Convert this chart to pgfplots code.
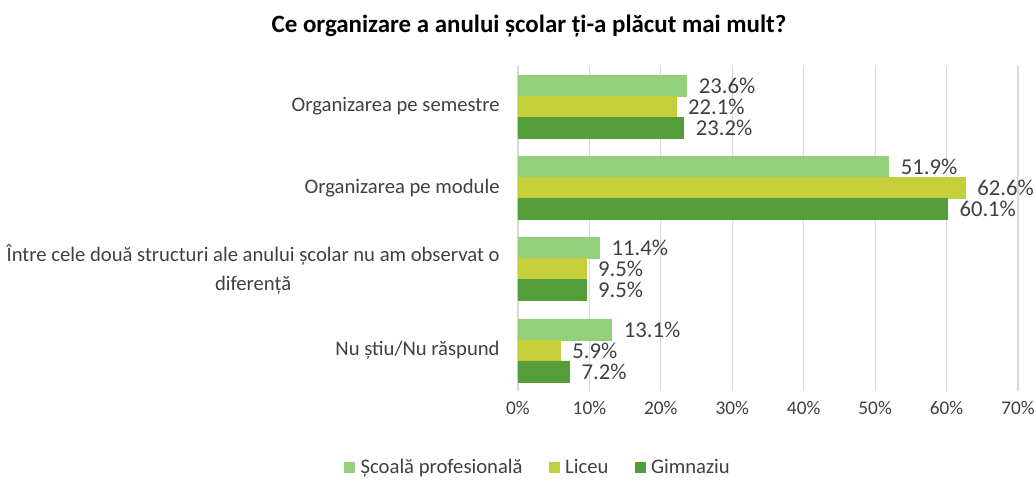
\documentclass[border=0pt]{standalone}
\usepackage{pgfplots}
\pgfplotsset{compat=1.18}
\usepackage{fontspec}
\setmainfont{Carlito}
\definecolor{cA}{RGB}{146,208,124}
\definecolor{cB}{RGB}{196,207,58}
\definecolor{cC}{RGB}{84,158,58}
\definecolor{txt}{RGB}{64,64,64}
\begin{document}
\begin{tikzpicture}
\useasboundingbox (-388.5pt,-66.75pt) rectangle (388.5pt,293.25pt);
\begin{axis}[
  at={(0,0)}, anchor=south west,
  scale only axis, width=375pt, height=243.75pt,
  xbar, bar width=15.75pt,
  xmin=0, xmax=70, ymin=-0.5, ymax=3.5, y dir=reverse,
  xtick={0,10,20,30,40,50,60,70},
  xticklabels={0\%,10\%,20\%,30\%,40\%,50\%,60\%,70\%},
  ytick={0,1,2,3},
  yticklabels={Organizarea pe semestre,Organizarea pe module,{Între cele două structuri ale anului școlar nu am observat o\\diferență},Nu știu/Nu răspund},
  yticklabel style={align=center, font=\fontsize{15.5}{21.5}\selectfont, text=txt, xshift=-6pt},
  xticklabel style={font=\fontsize{14.5}{17}\selectfont, text=txt, yshift=-4pt},
  /pgf/number format/assume math mode=true,
  xmajorgrids, grid style={draw=black!15, line width=0.8pt},
  axis line style={draw=none}, major tick style={draw=none},
  nodes near coords={\pgfmathprintnumber[fixed,fixed zerofill,precision=1]{\pgfplotspointmeta}\%},
  nodes near coords style={anchor=west, inner xsep=0pt, xshift=9pt, font=\fontsize{17}{20}\selectfont, text=txt},
  legend columns=3,
  legend style={at={(0.044,-0.234)}, anchor=center, draw=none, font=\fontsize{15.5}{18}\selectfont, text=txt,
    nodes={inner xsep=4.5pt},
    /tikz/every even column/.append style={column sep=15pt}},
  legend image code/.code={\fill[#1] (0pt,-3.75pt) rectangle (7.5pt,3.75pt);},
]
\addplot[fill=cA, draw=cA, bar shift=15.75pt] coordinates {(23.6,0) (51.9,1) (11.4,2) (13.1,3)};
\addplot[fill=cB, draw=cB, bar shift=0pt] coordinates {(22.1,0) (62.6,1) (9.5,2) (5.9,3)};
\addplot[fill=cC, draw=cC, bar shift=-15.75pt] coordinates {(23.2,0) (60.1,1) (9.5,2) (7.2,3)};
\legend{Școală profesională,Liceu,Gimnaziu}
\end{axis}
\node[font=\bfseries\fontsize{18.7}{22}\selectfont] at (8.25pt,273.75pt) {Ce organizare a anului școlar ți-a plăcut mai mult?};
\end{tikzpicture}
\end{document}
